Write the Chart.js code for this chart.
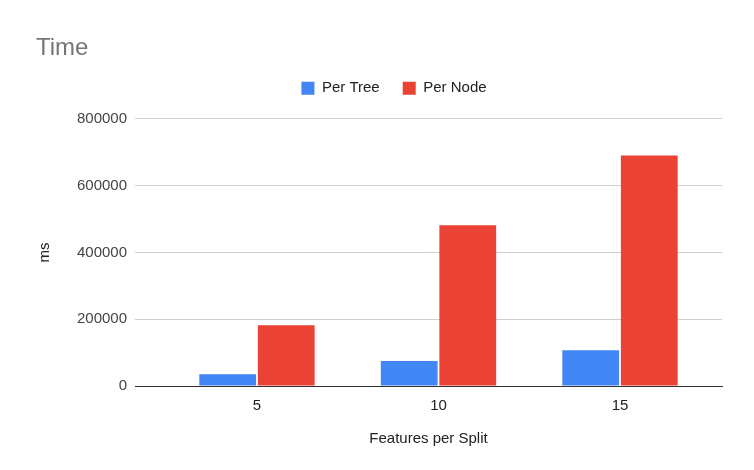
<!DOCTYPE html>
<html>
<head>
<meta charset="utf-8">
<script src="https://cdn.jsdelivr.net/npm/chart.js@4.4.1/dist/chart.umd.min.js"></script>
<style>
  html, body { margin: 0; padding: 0; background: #fff; }
  #wrap { width: 754px; height: 470px; }
</style>
</head>
<body>
<div id="wrap"><canvas id="timeChart" width="754" height="470"></canvas></div>
<script>
const categories = [5, 10, 15];
const perTree = [35000, 75000, 107000];
const perNode = [182000, 481000, 690000];
const yTicks = [0, 200000, 400000, 600000, 800000];

const FONT = 'Arial, "Liberation Sans", sans-serif';

// google sheets puts the legend a bit right of centre and close under the title
const legendShift = {
  id: 'legendShift',
  afterLayout(chart) {
    chart.legend.left += 15;
    chart.legend.right += 15;
    chart.legend.top -= 13;
    chart.legend.bottom -= 13;
  }
};

const ctx = window.document.querySelector('#timeChart').getContext('2d');

new Chart(ctx, {
  type: 'bar',
  data: {
    datasets: [{
      label: 'Per Tree',
      data: categories.map((c, i) => ({ x: c, y: perTree[i] })),
      backgroundColor: '#4285F4',
      categoryPercentage: 0.645,
      barPercentage: 0.97
    }, {
      label: 'Per Node',
      data: categories.map((c, i) => ({ x: c, y: perNode[i] })),
      backgroundColor: '#EA4335',
      categoryPercentage: 0.645,
      barPercentage: 0.97
    }]
  },
  plugins: [legendShift],
  options: {
    responsive: false,
    animation: false,
    layout: { padding: { left: 36, right: 32, top: 0, bottom: 0 } },
    plugins: {
      title: {
        display: true,
        text: 'Time',
        align: 'start',
        color: '#757575',
        font: { family: FONT, size: 24, weight: 'normal' },
        padding: { top: 34, bottom: 8 }
      },
      legend: {
        position: 'top',
        labels: {
          boxWidth: 13,
          boxHeight: 13,
          padding: 23,
          color: '#222',
          font: { family: FONT, size: 15 }
        }
      },
      tooltip: { enabled: false }
    },
    scales: {
      x: {
        type: 'linear',
        min: 1.64,
        max: 17.81,
        offset: false,
        afterBuildTicks: (scale) => {
          scale.ticks = categories.map(v => ({ value: v }));
        },
        afterFit: (scale) => { scale.height = 84; },
        grid: { display: false, drawTicks: false },
        border: { display: true, color: '#333', width: 1 },
        ticks: {
          color: '#222',
          padding: 11,
          font: { family: FONT, size: 15 },
          callback: (v) => String(v)
        },
        title: {
          display: true,
          text: 'Features per Split',
          color: '#222',
          font: { family: FONT, size: 15 },
          padding: { top: 0, bottom: 22 }
        }
      },
      y: {
        min: 0,
        max: 800000,
        afterBuildTicks: (scale) => {
          scale.ticks = yTicks.map(v => ({ value: v }));
        },
        afterFit: (scale) => { scale.width = 99; },
        grid: { color: '#d0d0d0', drawTicks: false },
        border: { display: false },
        ticks: {
          color: '#444',
          padding: 8,
          font: { family: FONT, size: 15 },
          callback: (v) => String(v)
        },
        title: {
          display: true,
          text: 'ms',
          color: '#222',
          font: { family: FONT, size: 15 },
          padding: { top: 0, bottom: 0 }
        }
      }
    }
  }
});
</script>
</body>
</html>
